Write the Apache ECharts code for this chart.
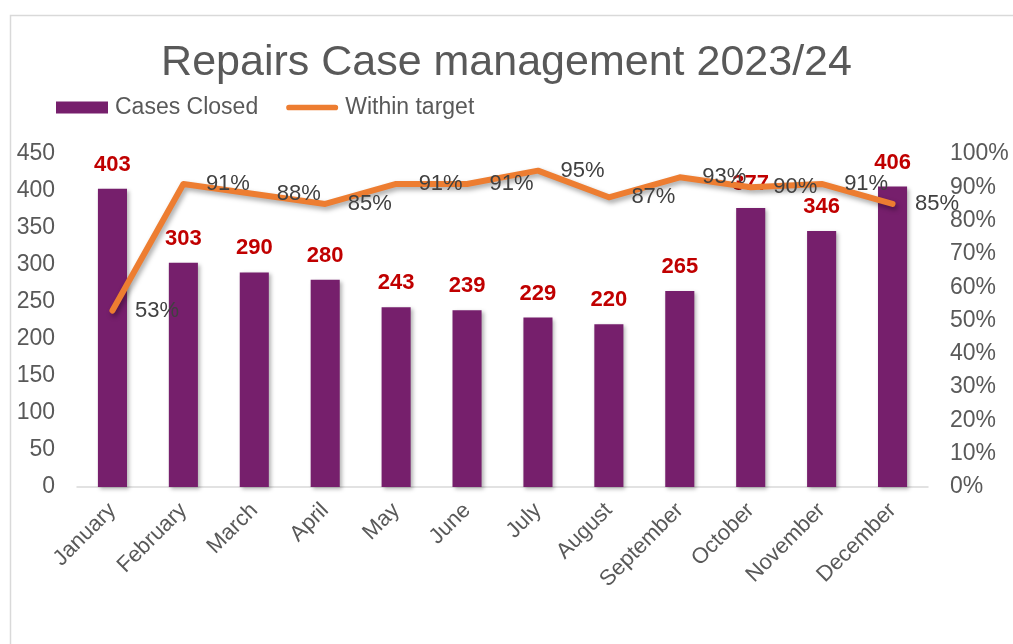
<!DOCTYPE html>
<html>
<head>
<meta charset="utf-8">
<script src="https://cdn.jsdelivr.net/npm/echarts@6/dist/echarts.min.js"></script>
<style>
  html, body { margin: 0; padding: 0; background: #fff; }
  #myChart { width: 1013px; height: 644px; }
</style>
</head>
<body>
<div id="myChart"></div>
<script>
const months = ['January', 'February', 'March', 'April', 'May', 'June', 'July',
  'August', 'September', 'October', 'November', 'December']
const casesClosed = [403, 303, 290, 280, 243, 239, 229, 220, 265, 377, 346, 406]
const withinTarget = [0.53, 0.91, 0.88, 0.85, 0.91, 0.91, 0.95, 0.87, 0.93, 0.90, 0.91, 0.85]

const textColor = '#595959'
const font = 'Liberation Sans, Arial, sans-serif'

const myChart = echarts.init(document.getElementById('myChart'))
myChart.setOption({
  textStyle: { fontFamily: font },
  graphic: [{
    type: 'rect',
    shape: { x: 10.5, y: 15.5, width: 1100, height: 700 },
    style: { fill: 'none', stroke: '#d9d9d9', lineWidth: 1.5 },
    z: -1
  }],
  title: {
    text: 'Repairs Case management 2023/24',
    left: 'center',
    top: 37,
    textStyle: { fontSize: 43, fontWeight: 'normal', color: textColor, fontFamily: font }
  },
  legend: {
    left: 51,
    top: 91,
    itemGap: 28,
    itemWidth: 52,
    itemHeight: 12,
    textStyle: { fontSize: 23, color: textColor, fontFamily: font, padding: [0, 0, 0, 2] },
    data: [
      { name: 'Cases Closed', icon: 'rect' },
      { name: 'Within target', icon: 'path://M3,3 L52,3 A3,3 0 0 1 52,9 L3,9 A3,3 0 0 1 3,3 Z' }
    ]
  },
  grid: { left: 77, right: 85, top: 154, bottom: 157 },
  xAxis: {
    type: 'category',
    data: months,
    axisLine: { lineStyle: { color: '#d9d9d9', width: 1.5 } },
    axisTick: { show: false },
    axisLabel: { rotate: 45, fontSize: 22, color: textColor, margin: 20 }
  },
  yAxis: [
    {
      type: 'value',
      min: 0,
      max: 450,
      interval: 50,
      splitLine: { show: false },
      axisLabel: { fontSize: 23, color: textColor, margin: 22 }
    },
    {
      type: 'value',
      min: 0,
      max: 1,
      interval: 0.1,
      splitLine: { show: false },
      axisLabel: {
        fontSize: 23,
        color: textColor,
        margin: 22,
        formatter: v => Math.round(v * 100) + '%'
      }
    }
  ],
  series: [
    {
      name: 'Cases Closed',
      type: 'bar',
      data: casesClosed,
      barWidth: '41%',
      itemStyle: {
        color: '#761F6C',
        shadowColor: 'rgba(0,0,0,0.3)',
        shadowBlur: 4,
        shadowOffsetX: 2,
        shadowOffsetY: 2
      },
      label: {
        show: true,
        position: 'top',
        distance: 13,
        fontSize: 22,
        fontWeight: 'bold',
        color: '#C00000'
      }
    },
    {
      name: 'Within target',
      type: 'line',
      yAxisIndex: 1,
      data: withinTarget,
      symbol: 'circle',
      symbolSize: 1,
      showSymbol: true,
      lineStyle: {
        color: '#ED7D31',
        width: 6,
        cap: 'round',
        join: 'round',
        shadowColor: 'rgba(0,0,0,0.35)',
        shadowBlur: 5,
        shadowOffsetX: 2,
        shadowOffsetY: 3
      },
      itemStyle: { color: '#ED7D31' },
      label: {
        show: true,
        position: 'right',
        distance: 22,
        offset: [0, 4],
        fontSize: 22,
        color: '#404040',
        formatter: p => Math.round(p.value * 100) + '%'
      },
      labelLayout: { hideOverlap: false },
      z: 3
    }
  ]
})
</script>
</body>
</html>
